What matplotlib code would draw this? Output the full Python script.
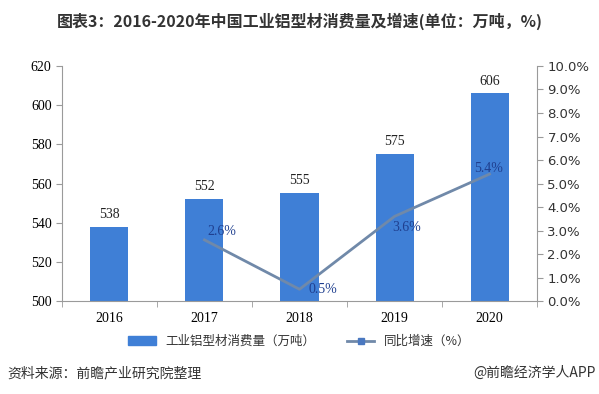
import matplotlib.pyplot as plt
import numpy as np
from matplotlib.lines import Line2D
from matplotlib.patches import Patch

plt.rcParams['font.family'] = ['Noto Sans CJK SC', 'DejaVu Sans']

years = ['2016', '2017', '2018', '2019', '2020']
consumption = [538, 552, 555, 575, 606]
growth_years = ['2017', '2018', '2019', '2020']
growth = [2.6, 0.5, 3.6, 5.4]
# where the growth labels sit relative to their points (pixels)
growth_label_offsets = [(17, 8), (23, 0), (12, -11), (-1, 6)]

BAR_COLOR = '#3f7fd6'
LINE_COLOR = '#7089a9'
AXIS_COLOR = '#9a9a9a'
SERIF = 'Liberation Serif'

fig = plt.figure(figsize=(5.99, 3.94), dpi=100)
ax = fig.add_axes([0.1035, 0.236, 0.793, 0.5965])

x = np.arange(len(years))
ax.bar(x, consumption, width=0.4, color=BAR_COLOR, zorder=2)
for xi, v in zip(x, consumption):
    ax.text(xi, v + 3, str(v), ha='center', va='bottom', fontsize=10,
            family=SERIF, color='#222222')

ax.set_ylim(500, 620)
ax.set_yticks(range(500, 621, 20))
ax.set_xlim(-0.5, len(years) - 0.5)
ax.set_xticks(x)
ax.set_xticklabels(years, family=SERIF, fontsize=10)
ax.set_xticks(np.arange(-0.5, len(years), 1), minor=True)
ax.tick_params(axis='x', which='major', length=0, pad=8)
ax.tick_params(axis='x', which='minor', length=4, color=AXIS_COLOR)
ax.tick_params(axis='y', length=4, color=AXIS_COLOR, labelsize=10)
for lbl in ax.get_yticklabels():
    lbl.set_family(SERIF)
for s in ['top', 'right']:
    ax.spines[s].set_visible(False)
ax.spines['left'].set_color(AXIS_COLOR)
ax.spines['bottom'].set_color(AXIS_COLOR)

ax2 = ax.twinx()
gx = [years.index(y) for y in growth_years]
ax2.plot(gx, growth, color=LINE_COLOR, lw=2, zorder=3)
for xi, v, off in zip(gx, growth, growth_label_offsets):
    ax2.annotate(f'{v}%', (xi, v), xytext=off, textcoords='offset pixels',
                 ha='center', va='center', fontsize=10, family=SERIF,
                 color='#1f3f8f')
ax2.set_ylim(0, 10)
ax2.set_yticks(np.arange(0, 10.1, 1))
ax2.set_yticklabels([f'{v:.1f}%' for v in np.arange(0, 10.1, 1)],
                    family='DejaVu Sans', fontsize=9.5, color='#333333')
ax2.tick_params(axis='y', length=4, color=AXIS_COLOR)
for s in ['top', 'left', 'bottom']:
    ax2.spines[s].set_visible(False)
ax2.spines['right'].set_color(AXIS_COLOR)

handles = [Patch(color=BAR_COLOR),
           Line2D([], [], color=LINE_COLOR, lw=2, marker='s', ms=5,
                  markerfacecolor='#4a78c0', markeredgecolor='#4a78c0')]
fig.legend(handles, ['工业铝型材消费量（万吨）', '同比增速（%）'],
           loc='center', bbox_to_anchor=(0.5, 0.133), ncol=2, frameon=False,
           fontsize=9, handlelength=2.2, columnspacing=2.5,
           labelcolor='#333333')

fig.text(0.5, 0.945, '图表3：2016-2020年中国工业铝型材消费量及增速(单位：万吨，%)',
         ha='center', va='center', fontsize=11.5, fontweight='bold',
         color='#333333')
fig.text(0.012, 0.053, '资料来源：前瞻产业研究院整理', ha='left', va='center',
         fontsize=10, color='#333333')
fig.text(0.995, 0.053, '@前瞻经济学人APP', ha='right', va='center',
         fontsize=10, color='#333333')

fig.savefig('out.png', dpi=100)
